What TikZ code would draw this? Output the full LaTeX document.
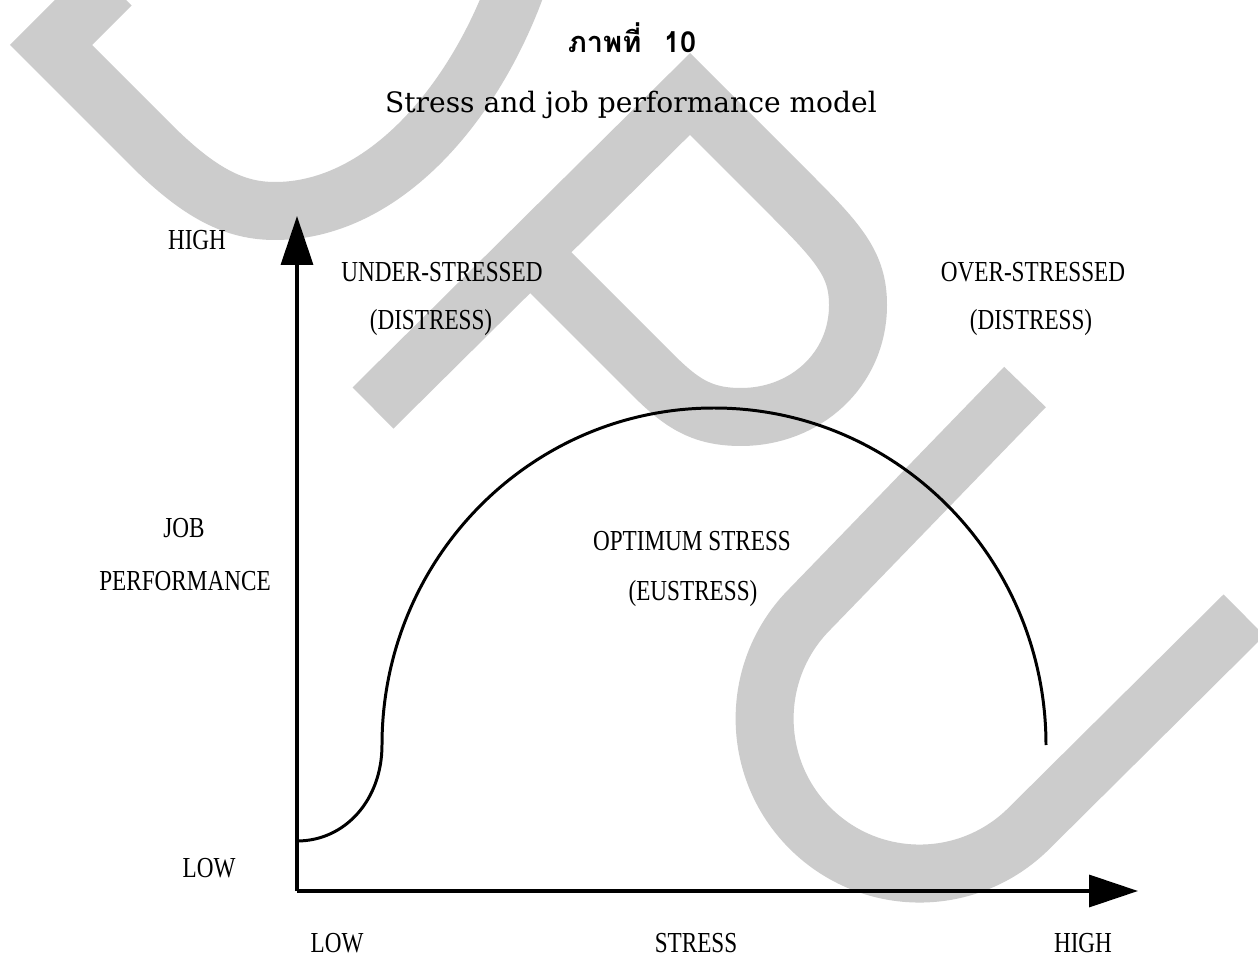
\documentclass[tikz,border=0pt]{standalone}
\usepackage{fontspec}
\setmainfont{DejaVu Serif}
\newfontfamily\lblfont[FakeStretch=0.8]{Liberation Serif}
\newfontfamily\thaifont[Script=Thai]{Loma}
\usetikzlibrary{arrows.meta}
\definecolor{wmgray}{HTML}{CCCCCC}

\begin{document}
\begin{tikzpicture}[x=0.02cm, y=-0.02cm,
    wmark/.style={line width=1.16cm, color=wmgray, line cap=butt, line join=miter},
    axis/.style={line width=2pt, -{Triangle[length=0.98cm,width=0.64cm]}},
    lbl/.style={anchor=base, inner sep=0pt, font=\lblfont\fontsize{16.5}{18}\selectfont}]
    \useasboundingbox (0,0) rectangle (1258,959);
    \fill[white] (0,0) rectangle (1258,959);

    % DPU watermark behind the graph
    \begin{scope}
        \clip (0,0) rectangle (1258,959);
        \draw[wmark] (111,-15) -- (51,45) -- (150,144) .. controls (200,194) and (235,211) .. (275,211)
            .. controls (380,211) and (470,110) .. (515,-10);
        \draw[wmark] (373,408) -- (690,94) -- (790,194) .. controls (840,244) and (858,265) .. (858,305)
            .. controls (858,370) and (805,417) .. (741,417) .. controls (700,417) and (680,402) .. (650,372) -- (531,253);
        \draw[wmark] (1025,387) -- (810,609) arc[start angle=135, end angle=315, radius=3.1cm] -- (1244,615);
    \end{scope}

    % title
    \node[anchor=base, inner sep=0pt, font=\thaifont\bfseries\fontsize{16.5}{19}\selectfont] (fignum) at (632,53) {ภาพที่\hspace{0.45cm}10};
    \node[anchor=base, inner sep=0pt, font=\fontsize{16}{19}\selectfont] (caption) at (631,113) {Stress and job performance model};

    % axes
    \coordinate (o) at (297,891);
    \coordinate (ytip) at (297,216);
    \coordinate (xtip) at (1138,891);
    \draw[axis] (o) -- (ytip);
    \draw[axis] (o) -- (xtip);

    % performance curve
    \draw[line width=1.7pt] (297,841) .. controls (345,841) and (382,800) .. (382,745)
        .. controls (382,559) and (530.6,408) .. (714,408)
        .. controls (897.4,408) and (1046,559) .. (1046,745);

    % axis labels
    \node[lbl] (yhigh) at (197,250) {HIGH};
    \node[lbl] (ylow) at (209,877) {LOW};
    \node[lbl] (job) at (184,538) {JOB};
    \node[lbl] (perf) at (185,590) {PERFORMANCE};
    \node[lbl] (xlow) at (337,952) {LOW};
    \node[lbl] (stress) at (696,952) {STRESS};
    \node[lbl] (xhigh) at (1083,952) {HIGH};

    % zones
    \node[lbl] (under) at (442,282) {UNDER-STRESSED};
    \node[lbl] (underd) at (431,330) {(DISTRESS)};
    \node[lbl] (over) at (1033,282) {OVER-STRESSED};
    \node[lbl] (overd) at (1031,330) {(DISTRESS)};
    \node[lbl] (optim) at (692,550) {OPTIMUM STRESS};
    \node[lbl] (eustress) at (693,600) {(EUSTRESS)};
\end{tikzpicture}
\end{document}
